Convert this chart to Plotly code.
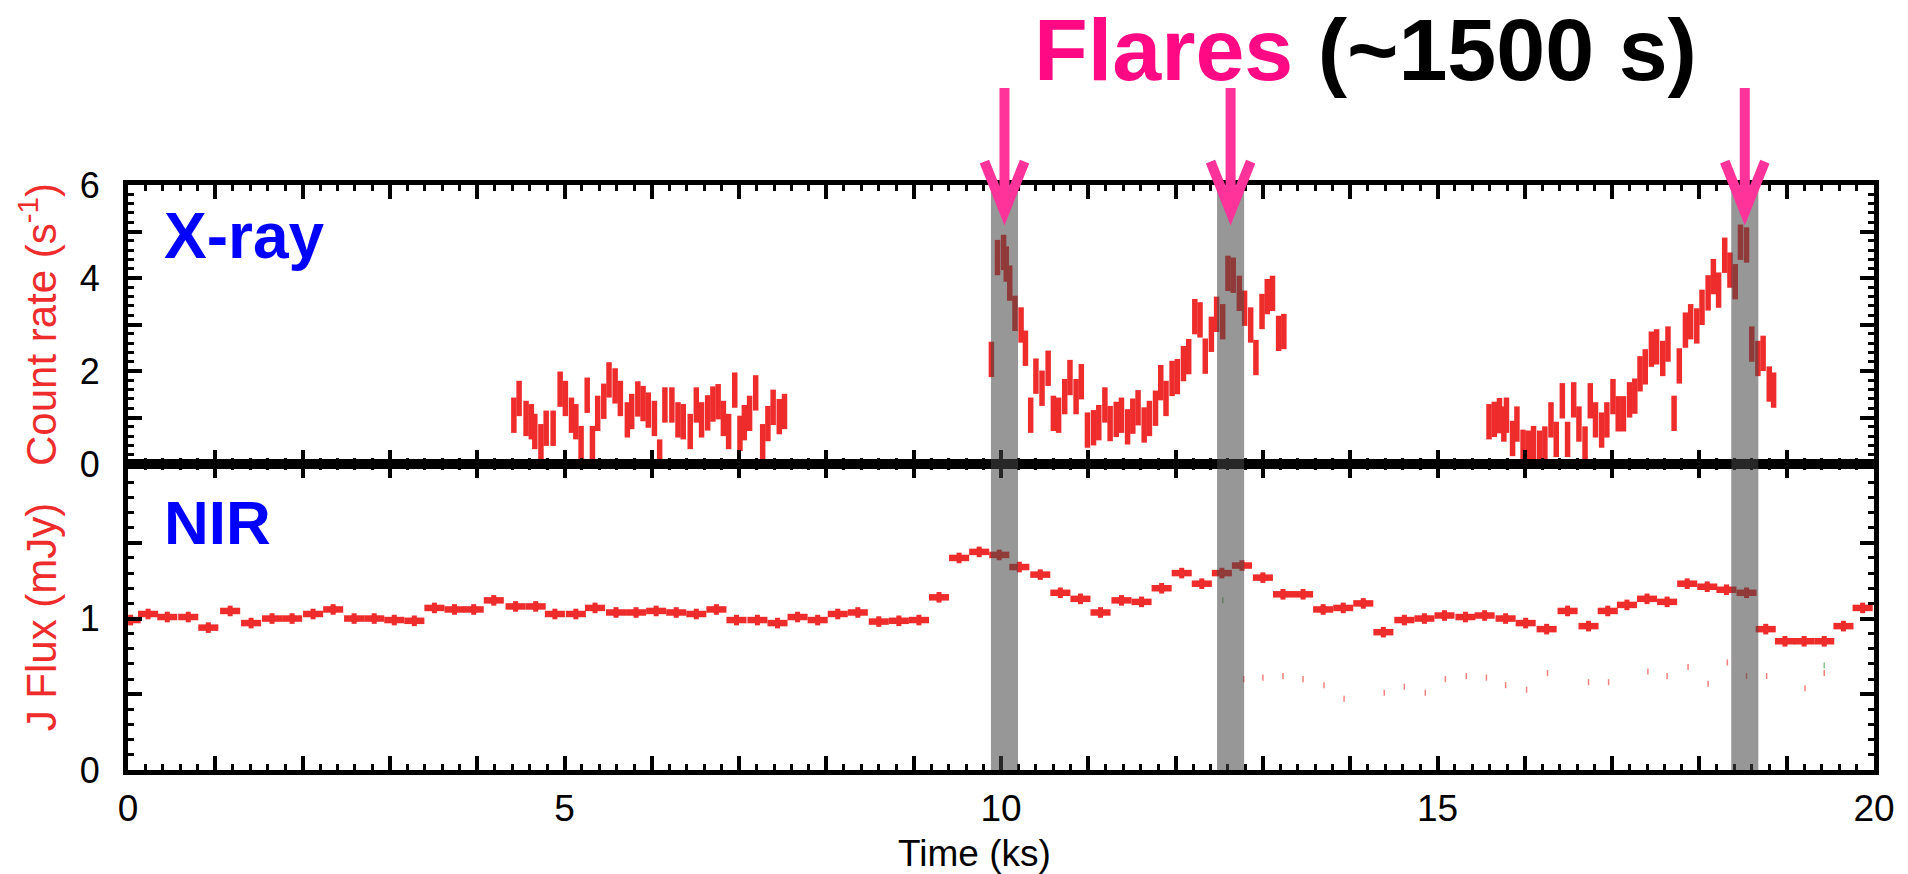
import plotly.graph_objects as go

# ---------------- data ----------------
XRAY_TIME = [4.42, 4.48, 4.56, 4.62, 4.66, 4.73, 4.79, 4.87, 4.95, 5.01, 5.08, 5.13, 5.19, 5.26, 5.32, 5.38,
             5.45,
             5.51, 5.58, 5.64, 5.72, 5.77, 5.84, 5.90, 5.96, 6.03, 6.09, 6.15, 6.23, 6.30, 6.36, 6.44, 6.51,
             6.57, 6.64,
             6.70, 6.76, 6.82, 6.88, 6.95, 7.01, 7.06, 7.12, 7.19, 7.27, 7.33, 7.39, 7.46, 7.52,
             9.89, 9.96, 10.03, 10.06, 10.10, 10.16, 10.23, 10.28, 10.34, 10.40, 10.47, 10.54, 10.60, 10.66,
             10.73, 10.79, 10.86, 10.92, 10.99, 11.06, 11.12, 11.19, 11.25, 11.32, 11.38, 11.45, 11.51, 11.57,
             11.64, 11.70, 11.77, 11.83, 11.89, 11.96, 12.02, 12.09, 12.15, 12.22, 12.28, 12.34, 12.41, 12.47,
             12.54, 12.60, 12.66, 12.73, 12.79, 12.86, 12.92, 12.99, 13.05, 13.11, 13.18, 13.24,
             15.59, 15.65, 15.71, 15.76, 15.79, 15.86, 15.91, 15.98, 16.04, 16.10, 16.17, 16.23, 16.30, 16.36,
             16.43, 16.49, 16.56, 16.62, 16.69, 16.75, 16.81, 16.88, 16.94, 17.01, 17.07, 17.13, 17.20, 17.26,
             17.32, 17.38, 17.45, 17.51, 17.58, 17.64, 17.71, 17.77, 17.84, 17.90, 17.97, 18.03, 18.10, 18.16,
             18.22, 18.29, 18.35, 18.41, 18.47, 18.54, 18.60, 18.67, 18.73, 18.80, 18.85]
XRAY_RATE = [1.05, 1.41, 0.98, 0.91, 0.70, 0.48, 0.77, 0.77, 1.61, 1.41, 1.05, 0.91, 0.44, 1.48, 0.44, 1.09,
             1.35,
             1.81, 1.68, 1.41, 0.95, 1.13, 1.40, 1.30, 1.16, 0.98, 0.15, 1.27, 1.27, 0.95, 0.91, 0.70, 1.27,
             0.95, 1.10,
             1.29, 1.34, 0.98, 0.70, 1.59, 0.66, 0.89, 1.09, 1.53, 0.48, 0.87, 1.22, 1.02, 1.13,
             2.25, 4.44, 4.55, 4.30, 3.89, 3.24, 2.99, 2.49, 1.05, 1.89, 1.63, 2.06, 1.09, 1.05,
             1.45, 1.86, 1.45, 1.77, 0.73, 0.78, 0.89, 1.27, 0.87, 0.96, 1.05, 0.80, 1.03, 1.21,
             0.84, 0.98, 1.20, 1.75, 1.41, 1.84, 1.88, 2.16, 2.31, 3.17, 3.10, 2.32, 2.79, 3.22,
             3.06, 4.10, 4.06, 3.67, 3.35, 2.99, 2.29, 3.28, 3.60, 3.67, 2.81, 2.85,
             0.91, 0.96, 1.04, 0.86, 1.05, 0.55, 0.86, 0.36, 0.34, 0.44, 0.34, 0.43, 0.95, 0.53,
             1.36, 0.53, 1.38, 0.86, 0.43, 1.36, 0.95, 0.73, 0.95, 1.45, 1.08, 1.08, 1.38, 1.46,
             1.94, 2.09, 2.47, 2.52, 2.27, 2.58, 1.09, 2.11, 2.88, 3.06, 2.97, 3.37, 3.68, 4.03,
             3.74, 4.49, 4.17, 3.92, 4.77, 4.71, 2.58, 2.27, 2.38, 1.72, 1.59]
XRAY_ERR = 0.38

NIR_TIME = [0.03, 0.23, 0.45, 0.69, 0.92, 1.17, 1.41, 1.65, 1.88, 2.12, 2.35, 2.59, 2.82, 3.05, 3.28, 3.51,
            3.74, 3.96, 4.19, 4.44, 4.67, 4.89, 5.13, 5.35, 5.59, 5.82, 6.05, 6.28, 6.51, 6.74, 6.97, 7.21,
            7.44, 7.67, 7.90, 8.13, 8.36, 8.60, 8.83, 9.06, 9.29, 9.52, 9.75, 9.98, 10.21, 10.45, 10.68,
            10.91, 11.14, 11.38, 11.61, 11.84, 12.07, 12.30, 12.53, 12.76, 13.00, 13.23, 13.46, 13.69,
            13.92, 14.15, 14.38, 14.62, 14.85, 15.08, 15.32, 15.54, 15.78, 16.01, 16.25, 16.49, 16.73,
            16.95, 17.17, 17.40, 17.63, 17.86, 18.09, 18.31, 18.54, 18.76, 18.98, 19.20, 19.43, 19.65, 19.87]
NIR_FLUX = [0.99, 1.03, 1.01, 1.01, 0.94, 1.05, 0.97, 1.00, 1.00, 1.03,
            1.06, 1.00, 1.00, 0.99, 0.985, 1.07, 1.06, 1.06, 1.12, 1.08,
            1.08, 1.03, 1.03, 1.07, 1.04, 1.04, 1.05, 1.04, 1.03, 1.06,
            0.99, 0.99, 0.97, 1.01, 0.99, 1.03, 1.04, 0.98, 0.985, 0.99,
            1.14, 1.40, 1.44, 1.42, 1.34, 1.29, 1.17, 1.13, 1.04, 1.12,
            1.11, 1.20, 1.30, 1.23, 1.30, 1.35, 1.27, 1.16, 1.16, 1.06,
            1.07, 1.10, 0.91, 0.99, 1.00, 1.02, 1.01, 1.02, 1.00, 0.97,
            0.93, 1.05, 0.95, 1.05, 1.09, 1.13, 1.11, 1.23, 1.21, 1.19,
            1.17, 0.93, 0.85, 0.85, 0.85, 0.95, 1.07]
NIR_ERR = 0.035
NIR_BIN_HALF = 0.115

NIR_FAINT_TIME = [12.78, 13.00, 13.23, 13.46, 13.70, 13.93, 14.39, 14.62, 14.86, 15.09, 15.33, 15.56, 15.78,
                  16.02, 16.26, 16.73, 16.96, 17.41, 17.63, 17.87, 18.10, 18.32, 18.54, 18.77, 19.21, 19.43]
NIR_FAINT_FLUX = [0.60, 0.61, 0.62, 0.60, 0.56, 0.47, 0.51, 0.55, 0.51, 0.60, 0.62, 0.61, 0.56,
                  0.53, 0.64, 0.58, 0.58, 0.65, 0.62, 0.68, 0.57, 0.71, 0.62, 0.62, 0.54, 0.64]
NIR_GREEN_TIME = [12.54, 19.43]
NIR_GREEN_FLUX = [1.12, 0.69]

FLARE_TIMES = [10.04, 12.63, 18.52]
FLARE_HALF_WIDTH = 0.155

X_TICKS = list(range(0, 21))
X_TICK_TEXT = [str(v) if v % 5 == 0 else " " for v in X_TICKS]
Y1_TICKS = [0, 1, 2, 3, 4, 5, 6]
Y1_TICK_TEXT = ["0", " ", "2", " ", "4", " ", "6"]
Y2_TICKS = [0, 0.5, 1, 1.5, 2]
Y2_TICK_TEXT = ["0", " ", "1", " ", " "]

# ---------------- style ----------------
RED = "rgb(238,44,44)"
PINK = "rgb(255,51,153)"
FONT = "Liberation Sans, Arial, Helvetica, sans-serif"
SPLIT = 0.523

fig = go.Figure()

fig.add_trace(go.Scatter(
    x=XRAY_TIME, y=XRAY_RATE, mode="markers", xaxis="x", yaxis="y",
    marker=dict(size=3, color=RED),
    error_y=dict(type="constant", value=XRAY_ERR, thickness=5.5, width=0, color=RED),
    showlegend=False, hoverinfo="skip"))

fig.add_trace(go.Scatter(
    x=NIR_FAINT_TIME, y=NIR_FAINT_FLUX, mode="markers", xaxis="x2", yaxis="y2",
    marker=dict(size=1, color="rgba(238,44,44,0)"),
    error_y=dict(type="constant", value=0.02, thickness=1.5, width=0, color="rgba(238,44,44,0.6)"),
    showlegend=False, hoverinfo="skip"))

fig.add_trace(go.Scatter(
    x=NIR_GREEN_TIME, y=NIR_GREEN_FLUX, mode="markers", xaxis="x2", yaxis="y2",
    marker=dict(size=1, color="rgba(0,0,0,0)"),
    error_y=dict(type="constant", value=0.02, thickness=1.5, width=0, color="rgba(90,170,90,0.7)"),
    showlegend=False, hoverinfo="skip"))

fig.add_trace(go.Scatter(
    x=NIR_TIME, y=NIR_FLUX, mode="markers", xaxis="x2", yaxis="y2",
    marker=dict(size=6, color=RED, symbol="square"),
    error_x=dict(type="constant", value=NIR_BIN_HALF, thickness=6.5, width=0, color=RED),
    error_y=dict(type="constant", value=NIR_ERR, thickness=5, width=0, color=RED),
    showlegend=False, hoverinfo="skip"))

axis_common = dict(
    showline=True, linewidth=5, linecolor="black", mirror="ticks",
    ticks="inside", ticklen=14, tickwidth=3.5, tickcolor="black",
    showgrid=False, zeroline=False, automargin=False,
    tickfont=dict(family=FONT, size=37, color="black"),
)

xmin = dict(ticks="inside", tick0=0, dtick=0.2, ticklen=6, tickwidth=3, tickcolor="black")

fig.update_layout(
    width=1908, height=874,
    margin=dict(l=128, r=34, t=185, b=104),
    paper_bgcolor="white", plot_bgcolor="white",
    font=dict(family=FONT, color="black"),
    xaxis=dict(domain=[0, 1], anchor="y", range=[0, 20], tickvals=X_TICKS, ticktext=X_TICK_TEXT,
               showticklabels=False, minor=xmin, **axis_common),
    xaxis2=dict(domain=[0, 1], anchor="y2", range=[0, 20], tickvals=X_TICKS, ticktext=X_TICK_TEXT,
                minor=xmin, ticklabelstandoff=2, **axis_common),
    yaxis=dict(domain=[SPLIT, 1], anchor="x", range=[0, 6], tickvals=Y1_TICKS, ticktext=Y1_TICK_TEXT,
               minor=dict(ticks="inside", tick0=0, dtick=0.2, ticklen=6, tickwidth=3, tickcolor="black"),
               ticklabelstandoff=16,
               title=dict(text="Count rate (s<sup>-1</sup>)", font=dict(family=FONT, size=42, color=RED),
                          standoff=12),
               **axis_common),
    yaxis2=dict(domain=[0, SPLIT], anchor="x2", range=[0, 2.02], tickvals=Y2_TICKS, ticktext=Y2_TICK_TEXT,
                minor=dict(ticks="inside", tick0=0, dtick=0.1, ticklen=6, tickwidth=3, tickcolor="black"),
                ticklabelstandoff=16,
                title=dict(text="J Flux (mJy)", font=dict(family=FONT, size=42, color=RED), standoff=12),
                **axis_common),
)
fig.update_yaxes(tickfont=dict(family=FONT, size=36, color="black"))

shapes = []
for t in FLARE_TIMES:
    shapes.append(dict(type="rect", xref="x", yref="paper", x0=t - FLARE_HALF_WIDTH, x1=t + FLARE_HALF_WIDTH,
                       y0=0, y1=1, fillcolor="rgba(70,70,70,0.56)", line=dict(width=0), layer="above"))
for t in FLARE_TIMES:
    shapes.append(dict(type="line", xref="x", yref="paper", x0=t, x1=t, y0=1.166, y1=0.965,
                       line=dict(color=PINK, width=10), layer="above"))
    shapes.append(dict(type="path", xref="x", yref="paper",
                       path=f"M {t - 0.23},1.040 L {t},0.954 L {t + 0.23},1.040",
                       line=dict(color=PINK, width=10), layer="above"))
fig.update_layout(shapes=shapes)

fig.add_annotation(text="<b>X-ray</b>", xref="paper", yref="paper", x=0.0195, y=0.977,
                   xanchor="left", yanchor="top", showarrow=False,
                   font=dict(family=FONT, size=64, color="rgb(0,0,255)"))
fig.add_annotation(text="<b>NIR</b>", xref="paper", yref="paper", x=0.0195, y=0.486,
                   xanchor="left", yanchor="top", showarrow=False,
                   font=dict(family=FONT, size=62, color="rgb(0,0,255)"))
fig.add_annotation(text='<b><span style="color:rgb(255,10,132)">Flares</span> (~1500 s)</b>',
                   xref="paper", yref="paper", x=0.709, y=1.143,
                   xanchor="center", yanchor="bottom", showarrow=False,
                   font=dict(family=FONT, size=88, color="black"))
fig.add_annotation(text="Time (ks)", xref="paper", yref="paper", x=0.485, y=-0.104,
                   xanchor="center", yanchor="top", showarrow=False,
                   font=dict(family=FONT, size=37, color="black"))

fig.write_html("out.html")
